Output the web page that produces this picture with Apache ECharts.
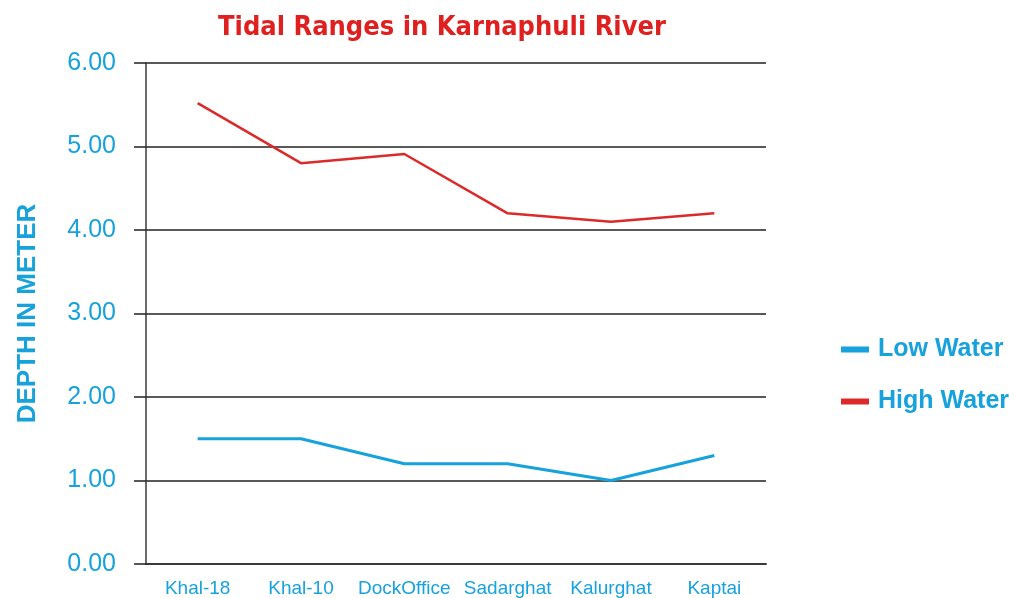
<!DOCTYPE html>
<html>
<head>
<meta charset="utf-8">
<script src="https://cdn.jsdelivr.net/npm/echarts@6/dist/echarts.min.js"></script>
<style>
  html, body { margin: 0; padding: 0; background: #fff; }
  #chart { width: 1015px; height: 598px; }
</style>
</head>
<body>
<div id="chart"></div>
<script>
// data
var stations = ['Khal-18', 'Khal-10', 'DockOffice', 'Sadarghat', 'Kalurghat', 'Kaptai'];
var lowWater = [1.5, 1.5, 1.2, 1.2, 1.0, 1.3];
var highWater = [5.52, 4.8, 4.91, 4.2, 4.1, 4.2];

var blue = '#17a2dc';
var red = '#dc2a2a';

var chart = echarts.init(document.getElementById('chart'));

var option = {
    animation: false,
    title: {
        text: 'Tidal Ranges in Karnaphuli River',
        left: 437,
        top: 9,
        textAlign: 'center',
        textStyle: {
            color: '#e01f1f',
            fontFamily: "'DejaVu Sans Condensed', 'Liberation Sans Narrow', sans-serif",
            fontWeight: 'bold',
            fontSize: 27
        }
    },
    legend: {
        orient: 'vertical',
        left: 836,
        top: 332,
        itemGap: 27,
        itemWidth: 28,
        itemHeight: 6,
        icon: 'rect',
        data: ['Low Water', 'High Water'],
        textStyle: {
            color: blue,
            fontFamily: 'Liberation Sans',
            fontWeight: 'bold',
            fontSize: 25,
            padding: [0, 0, 0, 4]
        }
    },
    grid: {
        left: 146,
        right: 249,
        top: 63,
        bottom: 31
    },
    xAxis: {
        type: 'category',
        data: stations,
        boundaryGap: true,
        axisTick: { show: false },
        axisLine: { lineStyle: { color: '#3a3a3a', width: 2 } },
        axisLabel: {
            color: blue,
            fontFamily: 'Liberation Sans',
            fontSize: 19,
            margin: 15,
            interval: 0
        }
    },
    yAxis: {
        type: 'value',
        min: 0,
        max: 6,
        interval: 1,
        name: 'DEPTH IN METER',
        nameLocation: 'middle',
        nameGap: 105,
        nameTextStyle: {
            color: blue,
            fontFamily: 'Liberation Sans',
            fontWeight: 'bold',
            fontSize: 26
        },
        axisLine: { show: true, lineStyle: { color: '#3a3a3a', width: 1.5 } },
        axisTick: { show: true, length: 12, lineStyle: { color: '#222', width: 1.5 } },
        splitLine: { lineStyle: { color: '#222', width: 1.5 } },
        axisLabel: {
            color: blue,
            fontFamily: 'Liberation Sans',
            fontSize: 25,
            margin: 30,
            formatter: function (v) { return v.toFixed(2); }
        }
    },
    series: [
        {
            name: 'Low Water',
            type: 'line',
            data: lowWater,
            symbol: 'none',
            color: blue,
            lineStyle: { color: blue, width: 3 }
        },
        {
            name: 'High Water',
            type: 'line',
            data: highWater,
            symbol: 'none',
            color: red,
            lineStyle: { color: red, width: 2.5 }
        }
    ]
};

chart.setOption(option);
</script>
</body>
</html>
